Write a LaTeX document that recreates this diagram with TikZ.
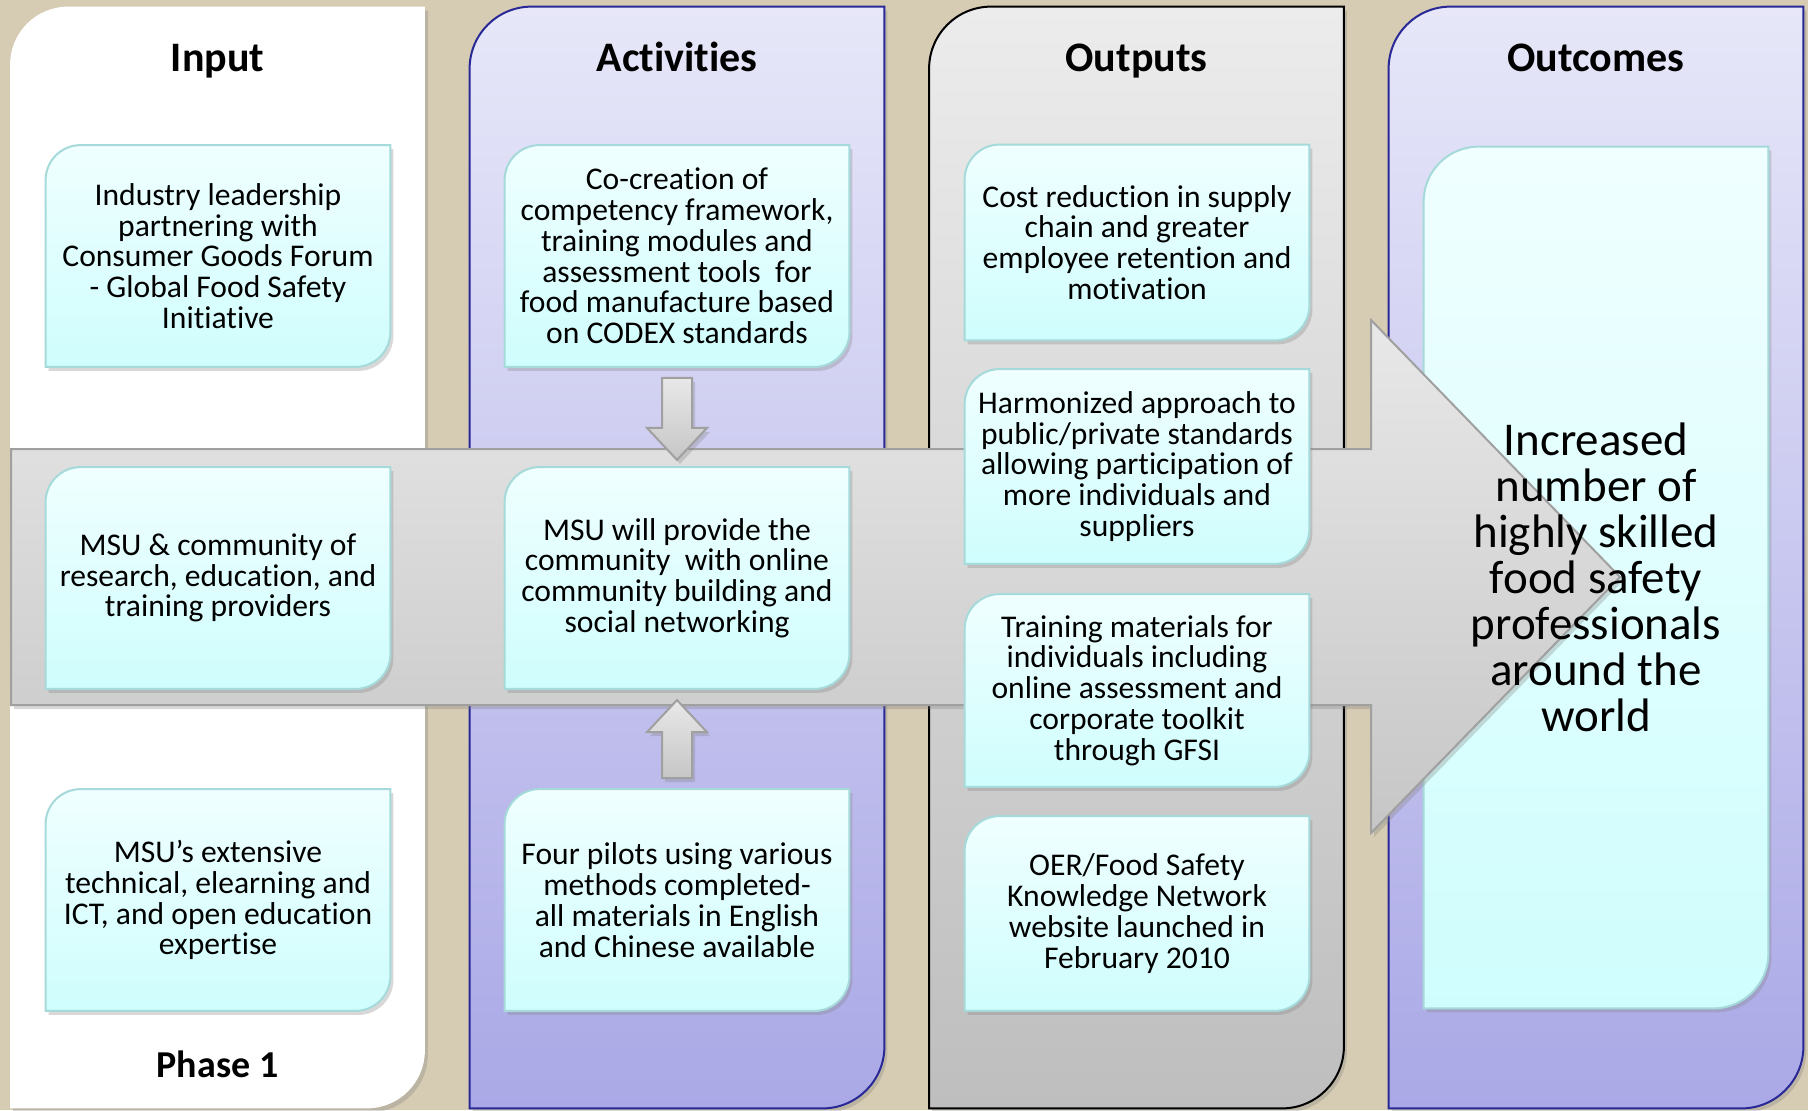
\documentclass[tikz,border=0pt]{standalone}
\usepackage{fontspec}
\setmainfont{Carlito}[Ligatures=NoCommon]
\usetikzlibrary{positioning, calc, shadows, backgrounds}

\definecolor{burlap}{RGB}{214,203,179}
\definecolor{lavtop}{RGB}{231,231,249}
\definecolor{lavbot}{RGB}{170,168,230}
\definecolor{navy}{RGB}{40,40,150}
\definecolor{greytop}{RGB}{236,236,236}
\definecolor{greybot}{RGB}{190,190,190}
\definecolor{cyantop}{RGB}{240,255,255}
\definecolor{cyanbot}{RGB}{207,253,253}
\definecolor{cyanline}{RGB}{166,218,218}
\definecolor{arrowtop}{RGB}{232,232,232}
\definecolor{arrowbot}{RGB}{198,198,198}
\definecolor{arrowline}{RGB}{160,160,160}

% outline with round top-left and bottom-right corners
\newcommand{\diagpath}[2]{(#1.south west) -- ($(#1.north west)+(0,-#2)$) arc[start angle=180, end angle=90, radius=#2] -- (#1.north east) -- ($(#1.south east)+(0,#2)$) arc[start angle=0, end angle=-90, radius=#2] -- cycle}

\begin{document}
\begin{tikzpicture}[
		x = 0.5pt, y = 0.5pt, % one unit per pixel of the slide
		node distance = 161pt, % distance between rows
		every node/.style = {align=center, font=\fontsize{15.8}{15.4}\selectfont}
		]
		
		\tikzstyle{colframe}=[minimum width=207pt, minimum height=550.5pt, inner sep=0pt]
		\tikzstyle{itembox}=[minimum width=172pt, minimum height=110.5pt, inner sep=0pt]
		\tikzstyle{headline}=[anchor=base, font=\fontsize{21}{24}\selectfont\bfseries]
		\tikzstyle{shadowed}=[drop shadow={shadow xshift=1.5pt, shadow yshift=-2pt, opacity=0.3}]
		\tikzstyle{itemfill}=[shadowed, draw=cyanline, line width=1pt, top color=cyantop, bottom color=cyanbot]
		\tikzstyle{blockarrow}=[shadowed, draw=arrowline, line width=1pt, top color=arrowtop, bottom color=arrowbot]
		
		\useasboundingbox (0,0) rectangle (1808,-1110);
		
		% columns
		\node[colframe] (colin) at (217.5,-557.5) {};
		\node[colframe, node distance=229.75pt] (colact) [right of=colin] {};
		\node[colframe, node distance=229.75pt] (colout) [right of=colact] {};
		\node[colframe, node distance=229.75pt] (colres) [right of=colout] {};
		
		\node[headline] (tin) at ($(colin.north)+(0,-65)$) {Input};
		\node[headline] (tact) at ($(colact.north)+(0,-65)$) {Activities};
		\node[headline] (tout) at ($(colout.north)+(0,-65)$) {Outputs};
		\node[headline] (tres) at ($(colres.north)+(0,-65)$) {Outcomes};
		\node[headline, font=\fontsize{19}{22}\selectfont\bfseries] (phase) at (217.5,-1077) {Phase 1};
		
		% input
		\node[itembox] (in1) at (218,-256) {Industry leadership\\partnering with\\Consumer Goods Forum\\- Global Food Safety\\Initiative};
		\node[itembox] (in2) [below of=in1] {MSU \& community of\\research, education, and\\training providers};
		\node[itembox] (in3) [below of=in2] {MSU’s extensive\\technical, elearning and\\ICT, and open education\\expertise};
		
		% activities
		\node[itembox, node distance=229.5pt] (act1) [right of=in1] {Co-creation of\\competency framework,\\training modules and\\assessment tools\ \ for\\food manufacture based\\on CODEX standards};
		\node[itembox] (act2) [below of=act1] {MSU will provide the\\community\ \ with online\\community building and\\social networking};
		\node[itembox] (act3) [below of=act2] {Four pilots using various\\methods completed-\\all materials in English\\and Chinese available};
		
		% outputs
		\node[itembox, minimum height=97.5pt] (out1) at (1137,-242.5) {Cost reduction in supply\\chain and greater\\employee retention and\\motivation};
		\node[itembox, minimum height=97pt, node distance=112pt] (out2) [below of=out1] {Harmonized approach to\\public/private standards\\allowing participation of\\more individuals and\\suppliers};
		\node[itembox, minimum height=96pt, node distance=112pt] (out3) [below of=out2] {Training materials for\\individuals including\\online assessment and\\corporate toolkit\\through GFSI};
		\node[itembox, minimum height=97pt, node distance=111.5pt] (out4) [below of=out3] {OER/Food Safety\\Knowledge Network\\website launched in\\February 2010};
		
		% outcome
		\node[itembox, minimum height=430.5pt, font=\fontsize{23.5}{23}\selectfont] (result) at (1596,-577.5) {Increased\\number of\\highly skilled\\food safety\\professionals\\around the\\world};
		
		\begin{scope}[on background layer]
		\fill[burlap] (0,0) rectangle (1808,-1110);
		\path[shadowed, fill=white] \diagpath{colin}{58};
		\path[shadowed, draw=navy, line width=1pt, top color=lavtop, bottom color=lavbot] \diagpath{colact}{62};
		\path[shadowed, draw=black, line width=1pt, top color=greytop, bottom color=greybot] \diagpath{colout}{62};
		\path[shadowed, draw=navy, line width=1pt, top color=lavtop, bottom color=lavbot] \diagpath{colres}{62};
		\path[itemfill] \diagpath{result}{55};
		
		% main arrow through all columns
		\coordinate (tail) at (11,-577);
		\coordinate (tip) at (1620,-577);
		\path[blockarrow] ($(tail)+(0,128)$) -- (1371,-449) -- (1371,-320) -- (tip) -- (1371,-833) -- (1371,-705) -- ($(tail)+(0,-128)$) -- cycle;
		
		% arrows into the middle activity
		\path[blockarrow] ($(act1.south)+(-15,-11)$) -- ++(30,0) -- ++(0,-50) -- ++(15,0) -- ++(-30,-32) -- ++(-30,32) -- ++(15,0) -- cycle;
		\path[blockarrow] ($(act3.north)+(-15,11)$) -- ++(30,0) -- ++(0,46) -- ++(15,0) -- ++(-30,32) -- ++(-30,-32) -- ++(15,0) -- cycle;
		
		\foreach \n in {in1,in2,in3,act1,act2,act3,out1,out2,out3,out4}
		\path[itemfill] \diagpath{\n}{35};
		\end{scope}
		\end{tikzpicture}
\end{document}
